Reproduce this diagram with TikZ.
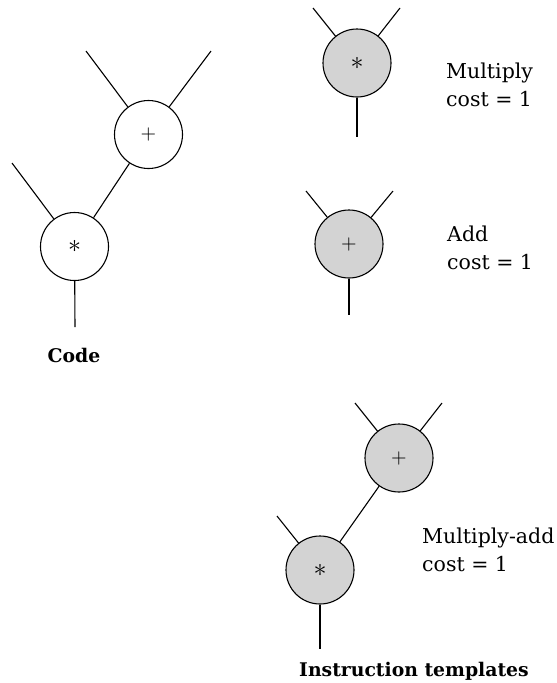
\documentclass[tikz,border=0pt]{standalone}
\usepackage{amsmath}
\usepackage{fontspec}
\usepackage{tikz}
\usepackage{xcolor}

\setmainfont{DejaVu Serif}
\definecolor{tplgray}{RGB}{211,211,211}

\tikzset{
  opnode/.style={circle, draw, line width=1.1pt, minimum size=68pt, inner sep=0pt},
  tplnode/.style={opnode, fill=tplgray},
  wire/.style={line width=1.1pt},
  costlabel/.style={align=left, anchor=west, inner sep=0pt, font=\fontsize{20.5}{28}\selectfont},
  caption/.style={inner sep=0pt, font=\fontsize{18.8}{24}\selectfont\bfseries}
}

\begin{document}
\begin{tikzpicture}[x=1pt, y=-1pt]
        \useasboundingbox (0,0) rectangle (557,683);

        % Code tree
        \node[opnode] (cmul) at (74.5,246.5) {\scalebox{2.6}{$\ast$}};
        \node[opnode] (cadd) at (148.5,134.5) {\scalebox{2}{$+$}};
        \coordinate (caddl) at (86,51);
        \coordinate (caddr) at (211,51);
        \coordinate (cmull) at (12,163);
        \coordinate (cout) at (75,327);
        \node[caption] (code) at (74,355) {Code};

        \draw[wire] (caddl) -- (cadd);
        \draw[wire] (caddr) -- (cadd);
        \draw[wire] (cmull) -- (cmul);
        \draw[wire] (cadd) -- (cmul);
        \draw[wire] (cmul) -- (cout);

        % Multiply template
        \node[tplnode] (tmul) at (357,63) {\scalebox{2.6}{$\ast$}};
        \coordinate (tmull) at (313,8);
        \coordinate (tmulr) at (400,8);
        \coordinate (tmulo) at (357,137);
        \node[costlabel] (tmultxt) at (446,85) {Multiply\\cost = 1};

        \draw[wire] (tmull) -- (tmul);
        \draw[wire] (tmulr) -- (tmul);
        \draw[wire] (tmul) -- (tmulo);

        % Add template
        \node[tplnode] (tadd) at (349,244) {\scalebox{2}{$+$}};
        \coordinate (taddl) at (306,191);
        \coordinate (taddr) at (393,191);
        \coordinate (taddo) at (349,315);
        \node[costlabel] (taddtxt) at (447,248) {Add\\cost = 1};

        \draw[wire] (taddl) -- (tadd);
        \draw[wire] (taddr) -- (tadd);
        \draw[wire] (tadd) -- (taddo);

        % Multiply-add template
        \node[tplnode] (madd) at (399,458) {\scalebox{2}{$+$}};
        \node[tplnode] (mmul) at (320,570) {\scalebox{2.6}{$\ast$}};
        \coordinate (maddl) at (355,403);
        \coordinate (maddr) at (442,403);
        \coordinate (mmull) at (277,516);
        \coordinate (mout) at (320,649);
        \node[costlabel] (maddtxt) at (422,550) {Multiply-add\\cost = 1};
        \node[caption] (tpl) at (414,671) {Instruction templates};

        \draw[wire] (maddl) -- (madd);
        \draw[wire] (maddr) -- (madd);
        \draw[wire] (mmull) -- (mmul);
        \draw[wire] (madd) -- (mmul);
        \draw[wire] (mmul) -- (mout);
\end{tikzpicture}
\end{document}
